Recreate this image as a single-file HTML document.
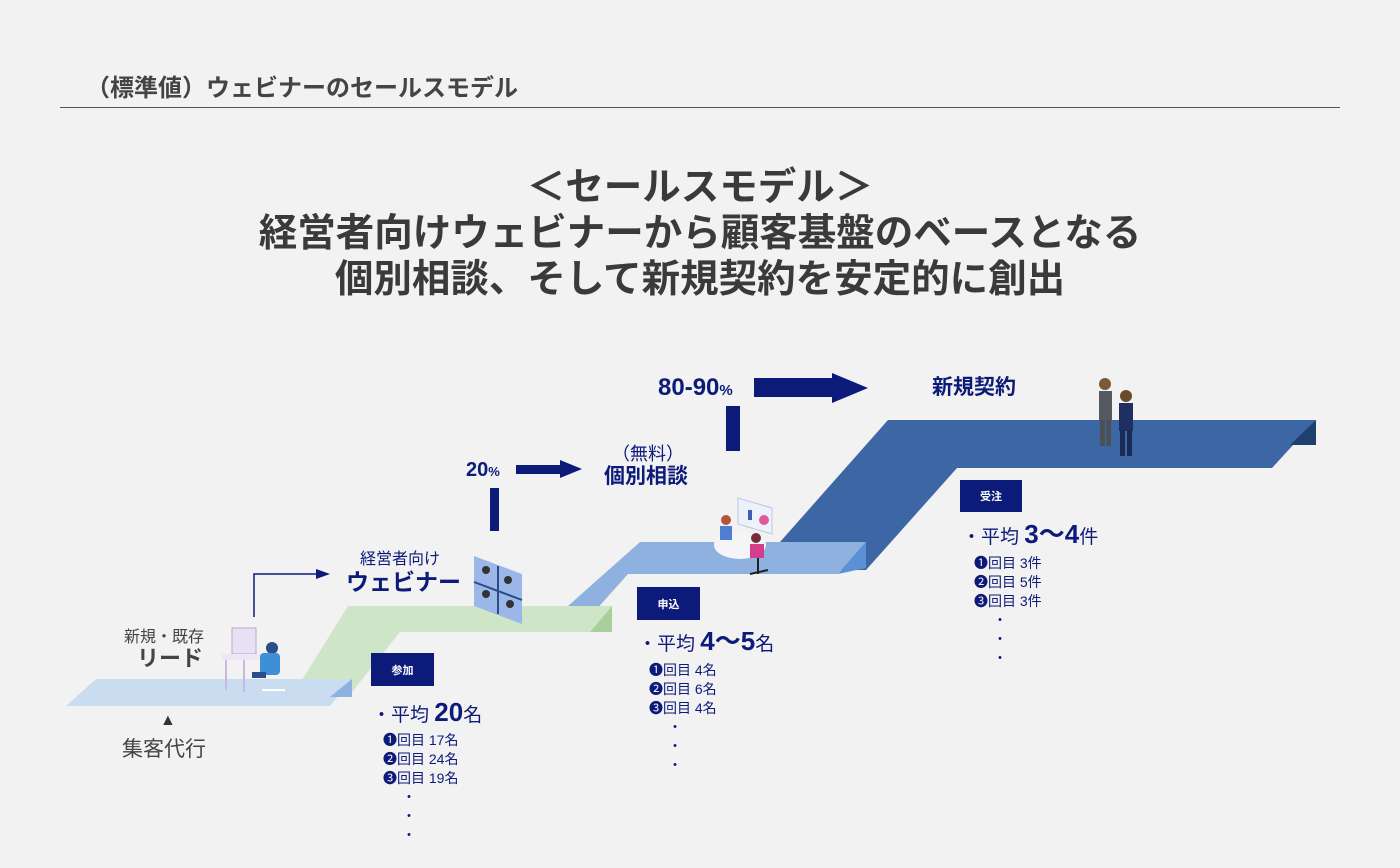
<!DOCTYPE html>
<html><head><meta charset="utf-8"><style>
*{margin:0;padding:0;box-sizing:border-box}
body{width:1400px;height:868px;background:#f2f2f2;position:relative;overflow:hidden;font-family:"Liberation Sans","Noto Sans CJK JP",sans-serif}
.a{position:absolute;white-space:nowrap;line-height:1}
.n{color:#0c1a7a}
.b{font-weight:bold}
.box{position:absolute;background:#0c1a7a;color:#fff;font-size:11px;font-weight:bold;display:flex;align-items:center;justify-content:center}
.l{font-size:14px;color:#0c1a7a;line-height:19px}
</style></head><body>
<div class="a b" style="left:86px;top:77px;font-size:24px;color:#444">（標準値）ウェビナーのセールスモデル</div>
<div class="a" style="left:60px;top:107px;width:1280px;height:1px;background:#555"></div>
<div class="a b" style="left:0;width:1400px;top:165px;text-align:center;font-size:38.5px;color:#3a3a3a;line-height:46px">＜セールスモデル＞<br>経営者向けウェビナーから顧客基盤のベースとなる<br>個別相談、そして新規契約を安定的に創出</div>

<svg class="a" style="left:0;top:0" width="1400" height="868">
<polygon points="780,542 888,420 1316,420 1272,468 957,468 866,570 800,570" fill="#3d66a4"/>
<polygon points="1290,445 1316,420 1316,445" fill="#1f3f70"/>
<polygon points="568,606 640,542 866,542 838,574 628,574 594,612" fill="#8fb1e0"/>
<polygon points="838,574 866,542 866,568" fill="#5b8fd6"/>
<polygon points="302,680 348,606 612,606 590,632 400,632 352,692" fill="#cfe5c8"/>
<polygon points="590,632 612,606 612,632" fill="#a9d09a"/>
<polygon points="96,679 352,679 330,706 66,706" fill="#c9dcf0"/>
<polygon points="330,697 352,679 352,697" fill="#8fb1e0"/>
<rect x="754" y="378" width="80" height="19" fill="#0c1a7a"/>
<polygon points="832,373 868,388 832,403" fill="#0c1a7a"/>
<rect x="726" y="406" width="14" height="45" fill="#0c1a7a"/>
<rect x="516" y="465" width="46" height="9" fill="#0c1a7a"/>
<polygon points="560,460 582,469 560,478" fill="#0c1a7a"/>
<rect x="490" y="488" width="9" height="43" fill="#0c1a7a"/>
<polyline points="254,617 254,574 318,574" fill="none" stroke="#0c1a7a" stroke-width="1.5"/>
<polygon points="316,569 330,574 316,579" fill="#0c1a7a"/>
<g>
<rect x="232" y="628" width="24" height="26" fill="#e8e0f3" stroke="#b9a8d8"/>
<rect x="222" y="654" width="50" height="6" fill="#efe6f5"/>
<line x1="226" y1="660" x2="226" y2="690" stroke="#c9b8e0" stroke-width="2"/>
<line x1="244" y1="660" x2="244" y2="692" stroke="#c9b8e0" stroke-width="2"/>
<circle cx="272" cy="648" r="6" fill="#2b4d8a"/>
<rect x="260" y="653" width="20" height="22" rx="4" fill="#3d8fd6"/>
<rect x="252" y="672" width="14" height="6" fill="#2b4d8a"/>
<line x1="262" y1="690" x2="285" y2="690" stroke="#fff" stroke-width="2"/>
</g>
<g>
<polygon points="474,556 522,574 522,624 474,606" fill="#9bb7ea"/>
<line x1="498" y1="566" x2="498" y2="614" stroke="#2b4d8a" stroke-width="2"/>
<line x1="474" y1="582" x2="522" y2="600" stroke="#2b4d8a" stroke-width="2"/>
<circle cx="486" cy="570" r="4" fill="#333"/><circle cx="508" cy="580" r="4" fill="#333"/>
<circle cx="486" cy="594" r="4" fill="#333"/><circle cx="510" cy="604" r="4" fill="#333"/>
</g>
<g>
<polygon points="738,498 772,508 772,534 738,524" fill="#eef1fa" stroke="#b8c6e6"/>
<rect x="748" y="510" width="4" height="10" fill="#3c5fb5"/><circle cx="764" cy="520" r="5" fill="#e05a9c"/>
<ellipse cx="740" cy="545" rx="26" ry="14" fill="#f5f5f8"/>
<circle cx="726" cy="520" r="5" fill="#b5543a"/><rect x="720" y="526" width="12" height="14" fill="#4d7fd1"/>
<circle cx="756" cy="538" r="5" fill="#7a2b3a"/><rect x="750" y="544" width="14" height="14" fill="#d33f8b"/>
<line x1="758" y1="558" x2="758" y2="574" stroke="#222" stroke-width="2"/>
<line x1="750" y1="574" x2="768" y2="570" stroke="#222" stroke-width="2"/>
</g>
<g>
<circle cx="1105" cy="384" r="6" fill="#7a5a3a"/>
<rect x="1099" y="391" width="13" height="30" fill="#555a60"/>
<rect x="1100" y="420" width="5" height="26" fill="#4b5056"/><rect x="1106" y="420" width="5" height="26" fill="#4b5056"/>
<circle cx="1126" cy="396" r="6" fill="#6a4a2a"/>
<rect x="1119" y="403" width="14" height="28" fill="#1f3060"/>
<rect x="1120" y="430" width="5" height="26" fill="#1a2a55"/><rect x="1127" y="430" width="5" height="26" fill="#1a2a55"/>
</g>
</svg>

<div class="a b n" style="left:658px;top:376px;font-size:24px">80-90<span style="font-size:15px">%</span></div>
<div class="a b n" style="left:932px;top:377px;font-size:21px">新規契約</div>
<div class="a b n" style="left:466px;top:460px;font-size:20px">20<span style="font-size:13px">%</span></div>
<div class="a n" style="left:612px;top:445px;font-size:18px">（無料）</div>
<div class="a b n" style="left:604px;top:466px;font-size:21px">個別相談</div>
<div class="a n" style="left:360px;top:552px;font-size:16px">経営者向け</div>
<div class="a b n" style="left:346px;top:571px;font-size:23px">ウェビナー</div>
<div class="a" style="left:124px;top:630px;font-size:16px;color:#444">新規・既存</div>
<div class="a b" style="left:137px;top:648px;font-size:22px;color:#444">リード</div>
<div class="a" style="left:160px;top:713px;font-size:16px;color:#333">▲</div>
<div class="a" style="left:122px;top:739px;font-size:21px;color:#444">集客代行</div>

<div class="box" style="left:371px;top:653px;width:63px;height:33px">参加</div>
<div class="box" style="left:637px;top:587px;width:63px;height:33px">申込</div>
<div class="box" style="left:960px;top:480px;width:62px;height:32px">受注</div>

<div class="a n" style="left:372px;top:699px;font-size:19px">・平均 <span class="b" style="font-size:26px">20</span>名</div>
<div class="a l" style="left:383px;top:731px">❶回目 17名<br>❷回目 24名<br>❸回目 19名</div>
<div class="a l" style="left:402px;top:788px">・<br>・<br>・</div>

<div class="a n" style="left:638px;top:628px;font-size:19px">・平均 <span class="b" style="font-size:26px">4～5</span>名</div>
<div class="a l" style="left:649px;top:661px">❶回目 4名<br>❷回目 6名<br>❸回目 4名</div>
<div class="a l" style="left:668px;top:718px">・<br>・<br>・</div>

<div class="a n" style="left:962px;top:521px;font-size:19px">・平均 <span class="b" style="font-size:26px">3～4</span>件</div>
<div class="a l" style="left:974px;top:554px">❶回目 3件<br>❷回目 5件<br>❸回目 3件</div>
<div class="a l" style="left:993px;top:611px">・<br>・<br>・</div>
</body></html>
